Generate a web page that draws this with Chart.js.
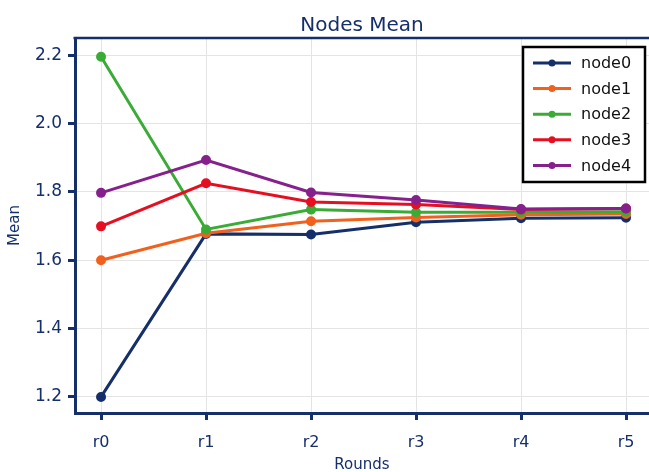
<!DOCTYPE html>
<html>
<head>
<meta charset="utf-8">
<script src="https://cdn.jsdelivr.net/npm/chart.js@4/dist/chart.umd.min.js"></script>
<style>
  html, body { margin: 0; padding: 0; background: #fff; overflow: hidden; }
  #wrap { width: 649px; height: 472px; }
  canvas { display: block; }
</style>
</head>
<body>
<div id="wrap"><canvas id="chart"></canvas></div>
<script>
const rounds = ['r0', 'r1', 'r2', 'r3', 'r4', 'r5'];
const node0 = [1.200, 1.677, 1.675, 1.711, 1.723, 1.724];
const node1 = [1.600, 1.679, 1.714, 1.725, 1.733, 1.735];
const node2 = [2.195, 1.690, 1.748, 1.740, 1.740, 1.742];
const node3 = [1.699, 1.825, 1.770, 1.763, 1.748, 1.751];
const node4 = [1.797, 1.893, 1.798, 1.776, 1.750, 1.751];
const yTicks = [1.2, 1.4, 1.6, 1.8, 2.0, 2.2];

const seriesNames = ['node0', 'node1', 'node2', 'node3', 'node4'];
const seriesData = [node0, node1, node2, node3, node4];
const seriesColors = ['#152f6b', '#f2601e', '#3aac36', '#e60f22', '#86208c'];

const NAVY = '#152f6b';
const FONT = '"DejaVu Sans", "Noto Sans", sans-serif';

// title centred over the plot area, plus the frame line along its top
const plotTitle = {
  id: 'plotTitle',
  afterDraw(chart) {
    const a = chart.chartArea;
    const ctx = chart.ctx;
    ctx.save();
    ctx.strokeStyle = NAVY;
    ctx.lineWidth = 2.5;
    ctx.beginPath();
    ctx.moveTo(a.left - 1.5, a.top);
    ctx.lineTo(chart.width, a.top);
    ctx.stroke();
    ctx.fillStyle = NAVY;
    ctx.font = '20px ' + FONT;
    ctx.textAlign = 'center';
    ctx.textBaseline = 'alphabetic';
    ctx.fillText('Nodes Mean', (a.left + a.right) / 2, 31);
    ctx.restore();
  }
};

// boxed legend in the top right of the plot area
const boxLegend = {
  id: 'boxLegend',
  afterDatasetsDraw(chart) {
    const ctx = chart.ctx;
    const x0 = 523, y0 = 47, w = 122, h = 135;
    ctx.save();
    ctx.fillStyle = '#fff';
    ctx.fillRect(x0, y0, w, h);
    ctx.strokeStyle = '#000';
    ctx.lineWidth = 2.5;
    ctx.strokeRect(x0, y0, w, h);
    ctx.font = '16px ' + FONT;
    ctx.textBaseline = 'middle';
    chart.data.datasets.forEach((ds, i) => {
      const y = y0 + 16 + i * 25.6;
      ctx.strokeStyle = ds.borderColor;
      ctx.lineWidth = 3;
      ctx.beginPath();
      ctx.moveTo(533, y);
      ctx.lineTo(571, y);
      ctx.stroke();
      ctx.fillStyle = ds.borderColor;
      ctx.beginPath();
      ctx.arc(552, y, 3.5, 0, Math.PI * 2);
      ctx.fill();
      ctx.fillStyle = '#111';
      ctx.fillText(ds.label, 581, y + 1);
    });
    ctx.restore();
  }
};

new Chart(document.getElementById('chart'), {
  type: 'line',
  data: {
    datasets: seriesNames.map((name, i) => ({
      label: name,
      data: seriesData[i].map((v, j) => ({ x: j, y: v })),
      borderColor: seriesColors[i],
      backgroundColor: seriesColors[i],
      borderWidth: 3,
      pointRadius: 3.5,
      pointHoverRadius: 3.5,
      order: seriesNames.length - i,
      tension: 0
    }))
  },
  options: {
    responsive: true,
    maintainAspectRatio: false,
    animation: false,
    layout: { autoPadding: false, padding: { top: 38, left: 0, right: 0, bottom: 0 } },
    plugins: {
      legend: { display: false },
      tooltip: { enabled: false },
      title: { display: false }
    },
    scales: {
      x: {
        type: 'linear',
        min: -0.248,
        max: 5.219,
        afterBuildTicks: s => { s.ticks = rounds.map((r, i) => ({ value: i })); },
        afterFit: s => { s.height = 59; s.paddingLeft = 0; s.paddingRight = 0; },
        ticks: {
          color: NAVY,
          font: { family: FONT, size: 16 },
          padding: 13,
          callback: v => rounds[v]
        },
        grid: { color: '#e4e4e4', lineWidth: 1, tickLength: 7, tickColor: NAVY, tickWidth: 3 },
        border: { color: NAVY, width: 3 },
        title: {
          display: true,
          text: 'Rounds',
          color: NAVY,
          font: { family: FONT, size: 15 },
          padding: { top: 0, bottom: -2 }
        }
      },
      y: {
        min: 1.153,
        max: 2.25,
        afterBuildTicks: s => { s.ticks = yTicks.map(v => ({ value: v })); },
        afterFit: s => { s.width = 75; s.paddingTop = 0; s.paddingBottom = 0; },
        ticks: {
          color: NAVY,
          font: { family: FONT, size: 17 },
          padding: 6,
          callback: v => v.toFixed(1)
        },
        grid: { color: '#e4e4e4', lineWidth: 1, tickLength: 7, tickColor: NAVY, tickWidth: 3 },
        border: { color: NAVY, width: 3 },
        title: {
          display: true,
          text: 'Mean',
          color: NAVY,
          font: { family: FONT, size: 15 },
          padding: { top: 6, bottom: 0 }
        }
      }
    }
  },
  plugins: [plotTitle, boxLegend]
});
</script>
</body>
</html>
